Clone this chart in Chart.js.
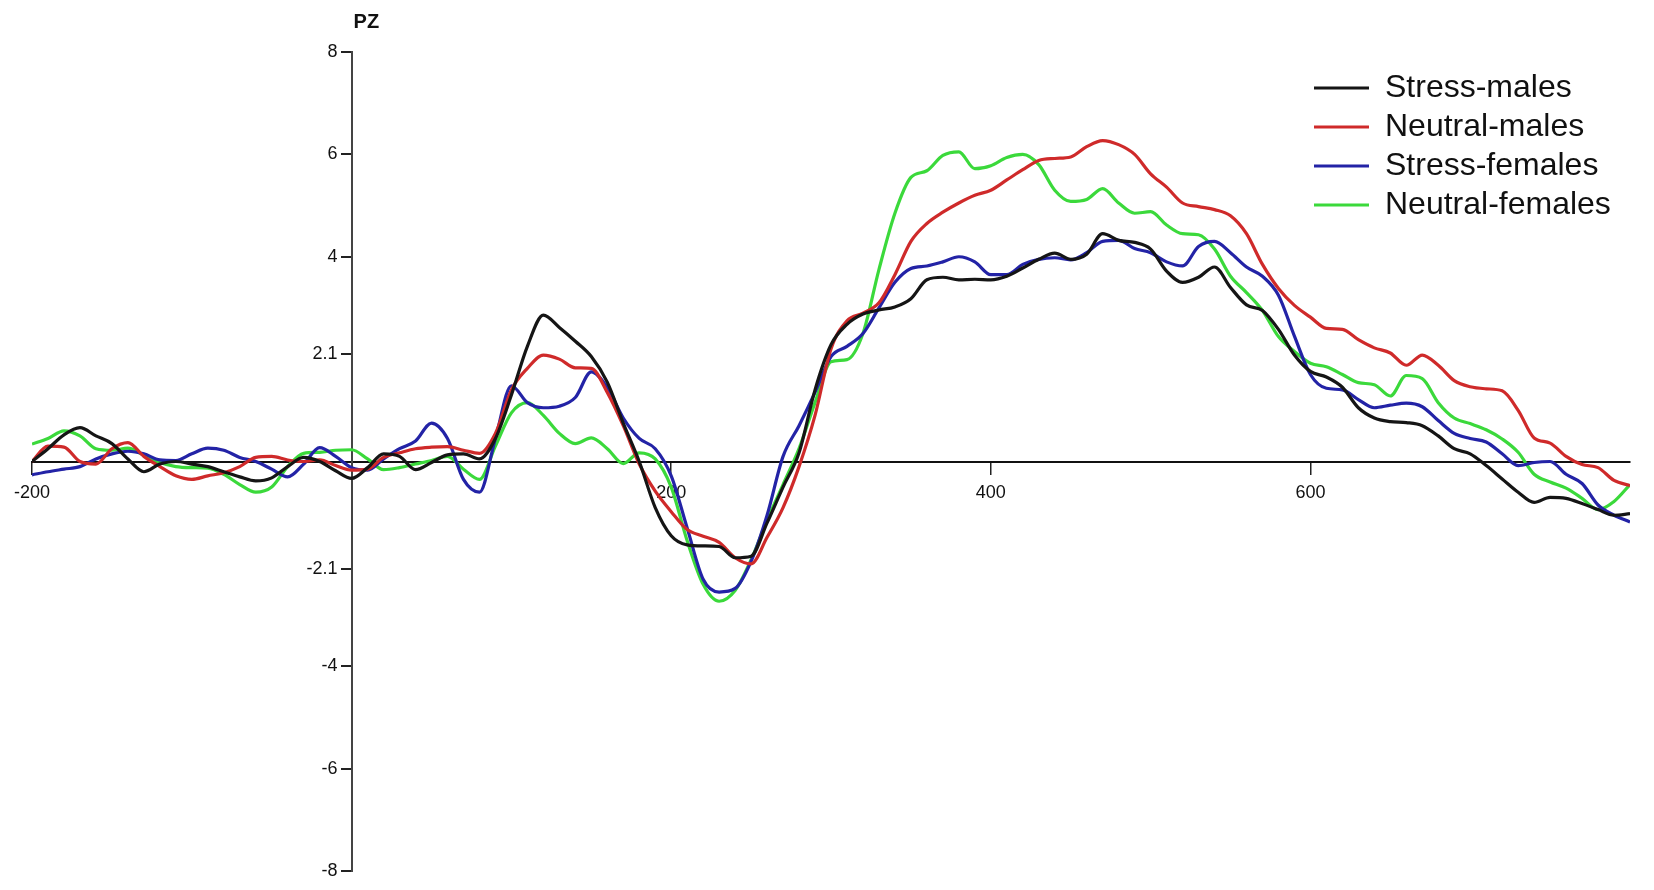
<!DOCTYPE html>
<html>
<head>
<meta charset="utf-8">
<title>PZ</title>
<script src="https://cdn.jsdelivr.net/npm/chart.js@4.4.1/dist/chart.umd.min.js"></script>
<style>
  html, body { margin: 0; padding: 0; background: #fff; }
</style>
</head>
<body>
<canvas id="erpChart" width="1654" height="890"></canvas>
<script>
const chartTitle = 'PZ';

const times = [
  -200, -190, -180, -170, -160, -150, -140, -130, -120, -110,
  -100, -90, -80, -70, -60, -50, -40, -30, -20, -10,
  0, 10, 20, 30, 40, 50, 60, 70, 80, 90,
  100, 110, 120, 130, 140, 150, 160, 170, 180, 190,
  200, 210, 220, 230, 240, 250, 260, 270, 280, 290,
  300, 310, 320, 330, 340, 350, 360, 370, 380, 390,
  400, 410, 420, 430, 440, 450, 460, 470, 480, 490,
  500, 510, 520, 530, 540, 550, 560, 570, 580, 590,
  600, 610, 620, 630, 640, 650, 660, 670, 680, 690,
  700, 710, 720, 730, 740, 750, 760, 770, 780, 790,
  800
];

const stressMales = [
  0.00, 0.25, 0.52, 0.66, 0.50, 0.35, 0.05, -0.20, -0.05, 0.00,
  -0.05, -0.10, -0.20, -0.30, -0.38, -0.32, -0.10, 0.08, 0.00, -0.18,
  -0.33, -0.12, 0.15, 0.10, -0.16, -0.02, 0.13, 0.15, 0.05, 0.45,
  1.30, 2.25, 2.86, 2.62, 2.35, 2.05, 1.55, 0.75, 0.00, -0.90,
  -1.45, -1.63, -1.65, -1.66, -1.88, -1.85, -1.20, -0.50, 0.17, 1.40,
  2.28, 2.68, 2.88, 2.96, 3.02, 3.18, 3.55, 3.60, 3.55, 3.56,
  3.55, 3.62, 3.78, 3.95, 4.07, 3.95, 4.05, 4.45, 4.32, 4.28,
  4.15, 3.72, 3.50, 3.60, 3.80, 3.40, 3.06, 2.95, 2.58, 2.08,
  1.76, 1.65, 1.45, 1.05, 0.85, 0.78, 0.76, 0.70, 0.50, 0.25,
  0.15, -0.08, -0.34, -0.60, -0.80, -0.70, -0.72, -0.82, -0.94, -1.05,
  -1.02
];

const neutralMales = [
  0.00, 0.30, 0.28, 0.00, -0.05, 0.25, 0.37, 0.10, -0.10, -0.28,
  -0.35, -0.28, -0.22, -0.10, 0.08, 0.10, 0.03, 0.00, 0.03, -0.08,
  -0.17, -0.15, 0.08, 0.17, 0.25, 0.28, 0.29, 0.22, 0.16, 0.55,
  1.40, 1.82, 2.08, 2.00, 1.83, 1.82, 1.35, 0.70, -0.05, -0.58,
  -0.98, -1.33, -1.46, -1.58, -1.88, -2.00, -1.48, -0.90, -0.10, 0.90,
  2.20, 2.75, 2.90, 3.10, 3.65, 4.30, 4.65, 4.87, 5.05, 5.20,
  5.30, 5.50, 5.70, 5.88, 5.92, 5.95, 6.15, 6.27, 6.19, 6.00,
  5.62, 5.36, 5.05, 4.98, 4.92, 4.80, 4.45, 3.85, 3.38, 3.05,
  2.82, 2.60, 2.58, 2.38, 2.22, 2.12, 1.88, 2.08, 1.88, 1.58,
  1.46, 1.42, 1.38, 1.00, 0.46, 0.36, 0.10, -0.06, -0.12, -0.37,
  -0.47
];

const stressFemales = [
  -0.26, -0.20, -0.15, -0.10, 0.05, 0.15, 0.20, 0.15, 0.03, 0.02,
  0.15, 0.26, 0.22, 0.08, 0.00, -0.15, -0.30, -0.05, 0.27, 0.10,
  -0.12, -0.17, 0.05, 0.25, 0.40, 0.75, 0.45, -0.35, -0.60, 0.45,
  1.48, 1.15, 1.05, 1.08, 1.25, 1.75, 1.45, 0.85, 0.45, 0.25,
  -0.28, -1.30, -2.30, -2.55, -2.48, -1.95, -1.05, 0.10, 0.70, 1.35,
  2.05, 2.25, 2.50, 3.00, 3.50, 3.77, 3.82, 3.90, 4.00, 3.90,
  3.65, 3.65, 3.85, 3.95, 3.98, 3.94, 4.08, 4.30, 4.32, 4.16,
  4.08, 3.90, 3.82, 4.20, 4.30, 4.08, 3.80, 3.62, 3.25, 2.45,
  1.70, 1.43, 1.40, 1.21, 1.05, 1.10, 1.14, 1.07, 0.80, 0.55,
  0.45, 0.38, 0.15, -0.08, -0.02, 0.00, -0.25, -0.43, -0.85, -1.05,
  -1.18
];

const neutralFemales = [
  0.34, 0.45, 0.60, 0.50, 0.25, 0.22, 0.26, 0.12, -0.02, -0.10,
  -0.12, -0.13, -0.25, -0.45, -0.60, -0.50, -0.10, 0.16, 0.18, 0.22,
  0.23, 0.05, -0.16, -0.12, -0.05, 0.02, 0.10, -0.15, -0.35, 0.30,
  0.95, 1.15, 0.90, 0.55, 0.35, 0.46, 0.25, -0.04, 0.17, 0.05,
  -0.50, -1.55, -2.40, -2.73, -2.52, -1.92, -1.15, -0.45, 0.25, 1.15,
  1.95, 1.99, 2.50, 3.75, 4.85, 5.55, 5.68, 5.98, 6.05, 5.72,
  5.78, 5.94, 6.00, 5.80, 5.30, 5.08, 5.12, 5.33, 5.05, 4.85,
  4.88, 4.62, 4.45, 4.43, 4.15, 3.62, 3.30, 2.95, 2.44, 2.15,
  1.92, 1.85, 1.70, 1.54, 1.50, 1.28, 1.68, 1.62, 1.15, 0.85,
  0.74, 0.62, 0.44, 0.18, -0.25, -0.40, -0.52, -0.72, -0.94, -0.78,
  -0.45
];

const seriesNames = ['Stress-males', 'Neutral-males', 'Stress-females', 'Neutral-females'];
const seriesValues = [stressMales, neutralMales, stressFemales, neutralFemales];
const seriesColors = ['#151515', '#cf2a2a', '#2323a6', '#3bd93b'];

const xTickValues = [-200, 200, 400, 600];
const yTickValues = [-8, -6, -4, -2.1, 2.1, 4, 6, 8];

const fontFamily = '"Liberation Sans", Arial, sans-serif';
Chart.defaults.font.family = fontFamily;
Chart.defaults.color = '#111';

// "PZ" label above the top of the y axis
const titlePlugin = {
  id: 'pzTitle',
  afterDraw(chart) {
    const ctx = chart.ctx;
    const x0 = chart.scales.x.getPixelForValue(0);
    ctx.save();
    ctx.font = 'bold 20px ' + fontFamily;
    ctx.fillStyle = '#111';
    ctx.textBaseline = 'middle';
    ctx.fillText(chartTitle, x0 + 2, chart.chartArea.top - 30);
    ctx.restore();
  }
};

// move the legend box into the top right corner of the plot
const legendPlace = {
  id: 'legendPlace',
  afterLayout(chart) {
    const lg = chart.legend;
    if (!lg) return;
    const area = chart.chartArea;
    lg.left = area.right - 323;
    lg.right = lg.left + lg.width;
    lg.top = area.top + 13;
    lg.bottom = lg.top + lg.height;
  }
};

// y axis sits at x = 0, so push its labels left of the tick marks
const yLabelShift = {
  id: 'yLabelShift',
  beforeDraw(chart) {
    const ys = chart.scales.y;
    const gap = ys.options.grid.tickLength + ys.options.ticks.padding;
    ys.getLabelItems().forEach(item => {
      if (!item.shifted) {
        item.options.translation[0] -= gap;
        item.shifted = true;
      }
    });
  }
};

const ctx = document.getElementById('erpChart').getContext('2d');

const erpChart = new Chart(ctx, {
  type: 'line',
  data: {
    datasets: seriesValues.map((vals, i) => ({
      label: seriesNames[i],
      data: times.map((t, j) => ({ x: t, y: vals[j] })),
      borderColor: seriesColors[i],
      backgroundColor: seriesColors[i],
      borderWidth: 3.2,
      pointRadius: 0,
      fill: false,
      cubicInterpolationMode: 'monotone'
    }))
  },
  options: {
    responsive: false,
    animation: false,
    events: [],
    layout: { padding: { left: 32, right: 24, top: 52, bottom: 19 } },
    plugins: {
      legend: {
        position: 'chartArea',
        align: 'start',
        labels: {
          usePointStyle: true,
          pointStyleWidth: 55,
          pointStyle: 'line',
          padding: 7,
          color: '#111',
          font: { size: 32 }
        }
      },
      tooltip: { enabled: false }
    },
    scales: {
      x: {
        type: 'linear',
        position: { y: 0 },
        min: -200,
        max: 800,
        afterBuildTicks: s => { s.ticks = xTickValues.map(v => ({ value: v })); },
        afterFit: s => { s.height = 0; },
        grid: { drawOnChartArea: false, tickLength: 12, color: '#222', lineWidth: 1.5 },
        border: { color: '#111', width: 2 },
        ticks: { padding: 9, maxRotation: 0, autoSkip: false, font: { size: 18 }, color: '#111' }
      },
      y: {
        type: 'linear',
        position: { x: 0 },
        min: -8,
        max: 8,
        afterBuildTicks: s => { s.ticks = yTickValues.map(v => ({ value: v })); },
        afterFit: s => { s.width = 0; },
        grid: { drawOnChartArea: false, tickLength: 10, color: '#222', lineWidth: 2 },
        border: { color: '#444', width: 2 },
        ticks: { padding: 4, autoSkip: false, font: { size: 18 }, color: '#111', callback: v => String(v) }
      }
    }
  },
  plugins: [titlePlugin, legendPlace, yLabelShift]
});
</script>
</body>
</html>
